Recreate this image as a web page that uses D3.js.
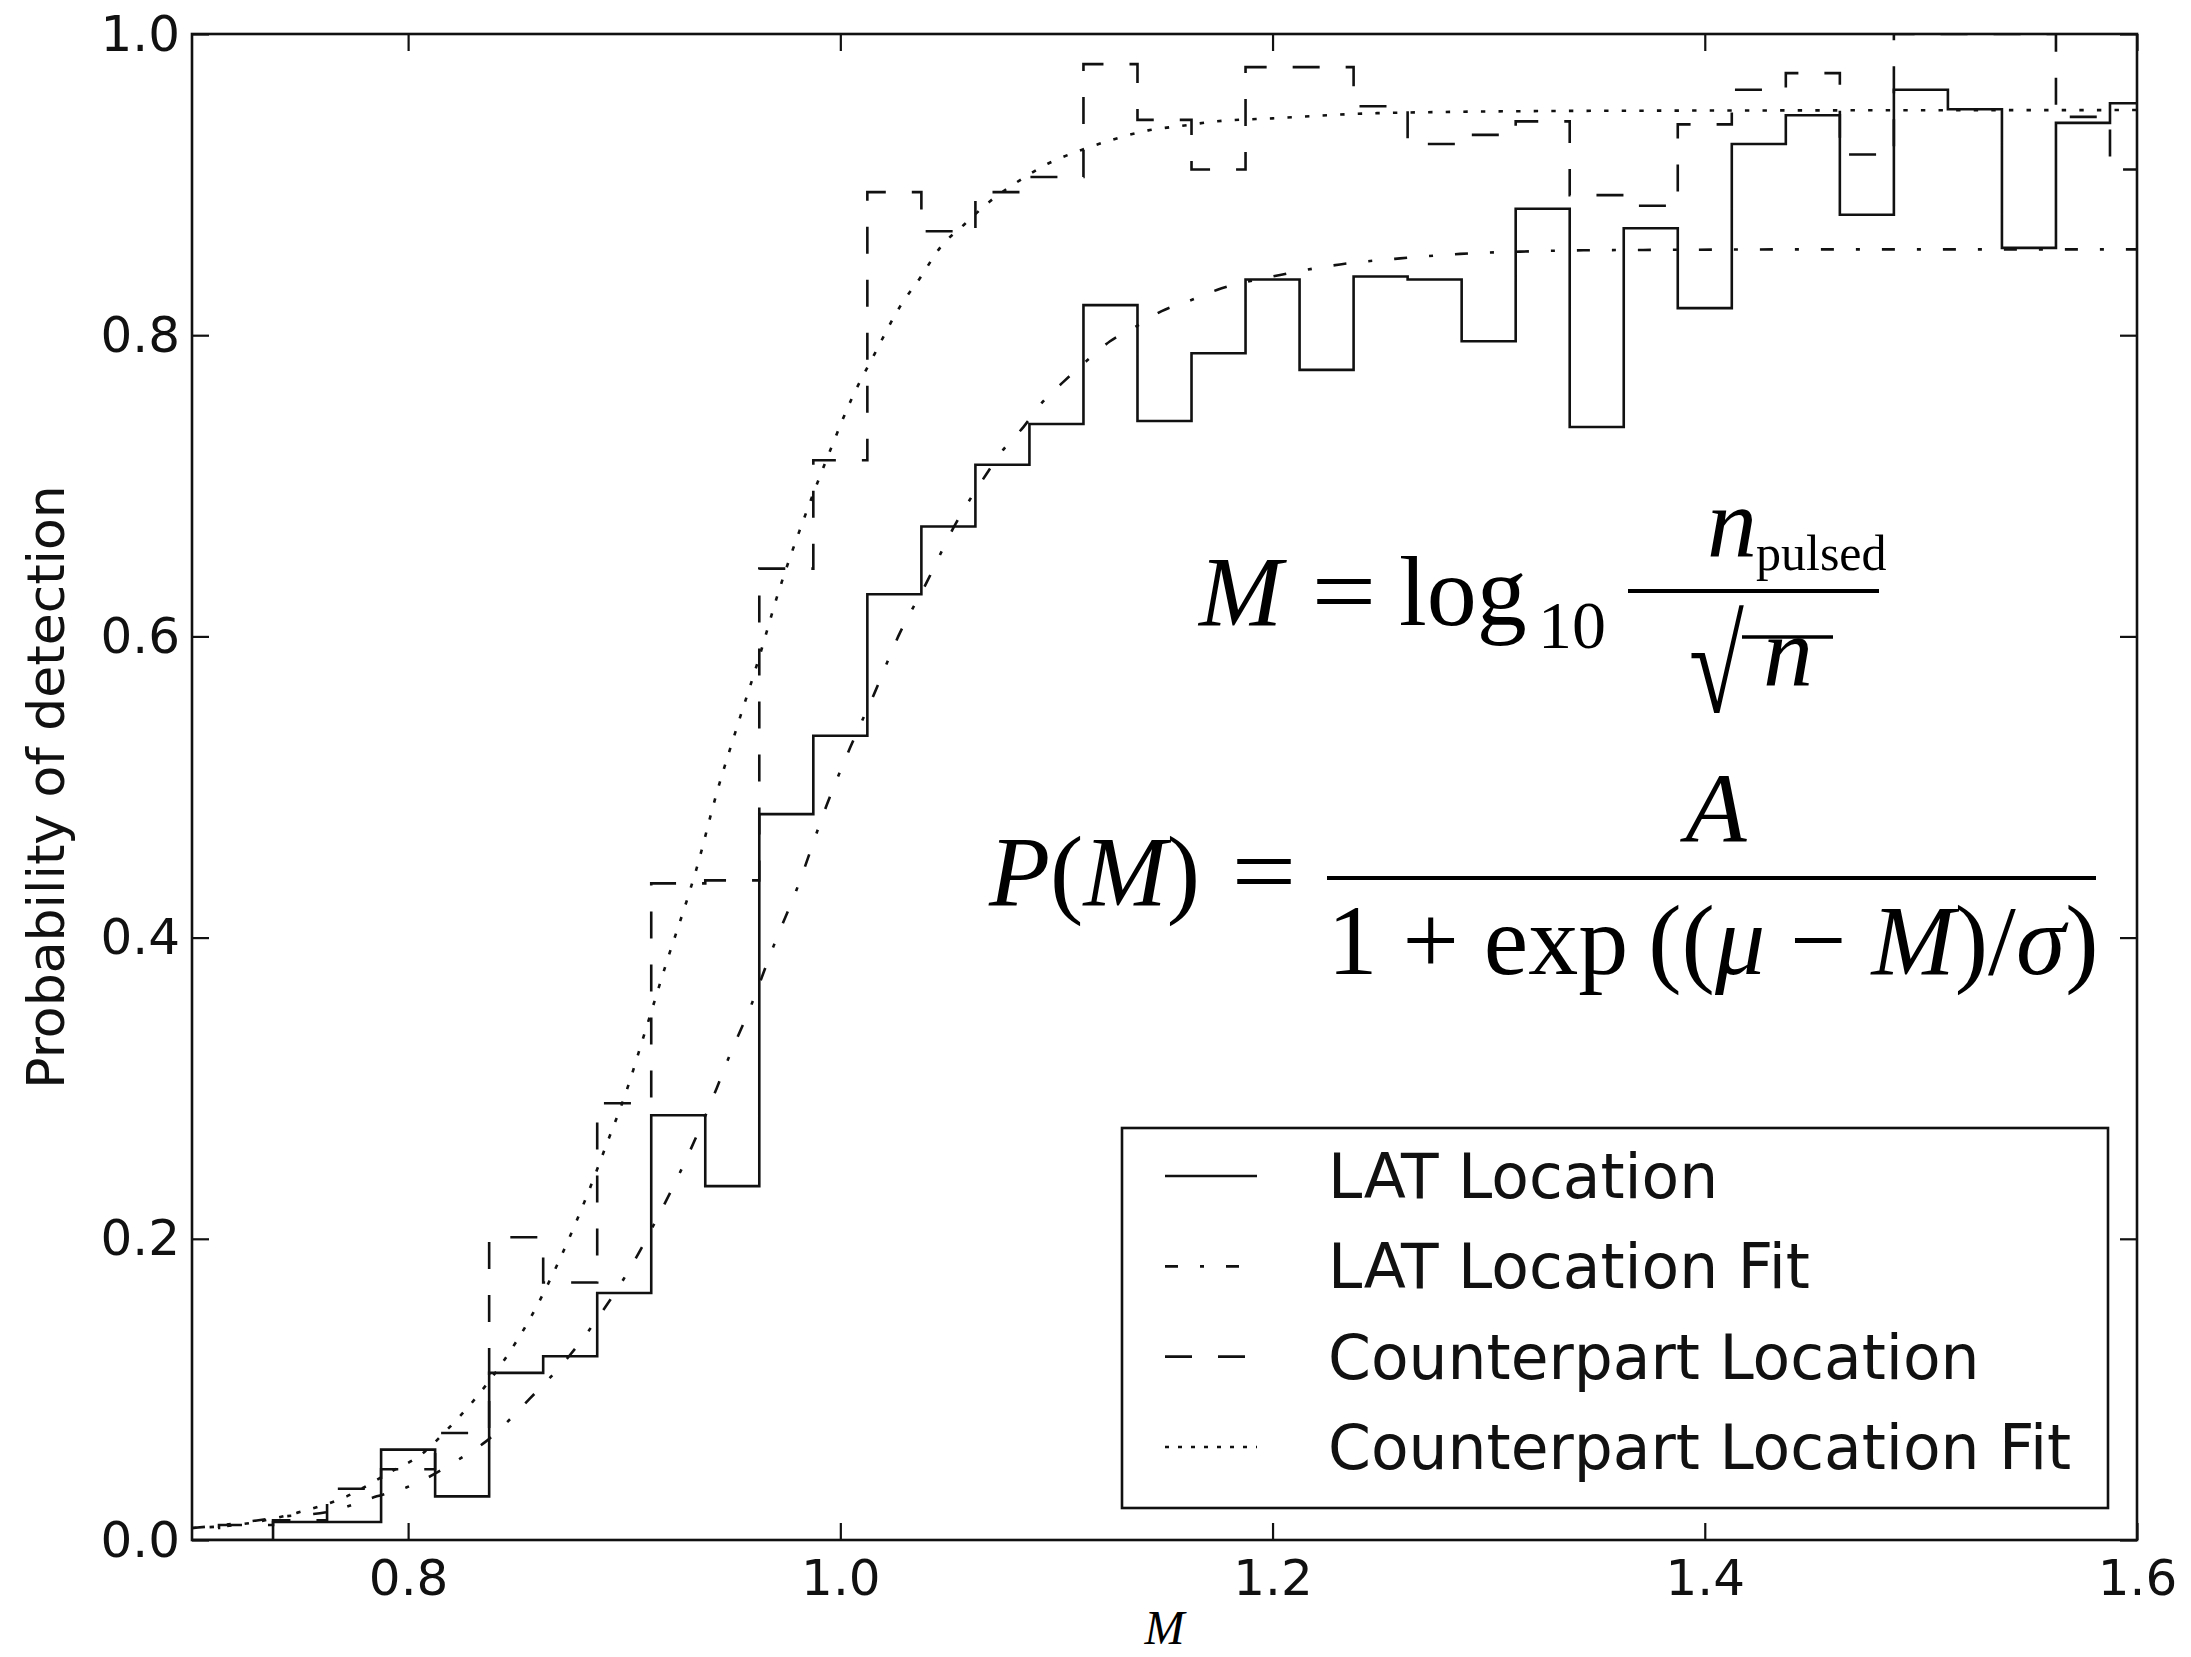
<!DOCTYPE html>
<html>
<head>
<meta charset="utf-8">
<script src="https://cdn.jsdelivr.net/npm/d3@7"></script>
<style>
  body { margin: 0; background: #fff; }
  svg { display: block; }
  .tick text { font-family: "DejaVu Sans", sans-serif; fill: #111; }
  .math { font-family: "Liberation Serif", "Times New Roman", serif; fill: #000; }
  .legend text { font-family: "DejaVu Sans", sans-serif; fill: #111; }
</style>
</head>
<body>
<svg id="chart" width="2191" height="1657"></svg>
<script>
// histogram bin edges (bin width 0.025), last entry is the right edge of the last bin
const binEdges = [0.6875, 0.7125, 0.7375, 0.7625, 0.7875, 0.8125, 0.8375, 0.8625, 0.8875, 0.9125,
    0.9375, 0.9625, 0.9875, 1.0125, 1.0375, 1.0625, 1.0875, 1.1125, 1.1375, 1.1625,
    1.1875, 1.2125, 1.2375, 1.2625, 1.2875, 1.3125, 1.3375, 1.3625, 1.3875, 1.4125,
    1.4375, 1.4625, 1.4875, 1.5125, 1.5375, 1.5625, 1.5875, 1.6125];

// detection fraction per bin
const latLocation = [0, 0, 0.012, 0.012, 0.060, 0.029, 0.111, 0.122, 0.164, 0.282,
    0.235, 0.482, 0.534, 0.628, 0.673, 0.714, 0.741, 0.820, 0.743, 0.788,
    0.837, 0.777, 0.839, 0.837, 0.796, 0.884, 0.739, 0.871, 0.818, 0.927,
    0.946, 0.880, 0.963, 0.950, 0.858, 0.941, 0.954];

const counterpartLocation = [0.008, 0.010, 0.013, 0.034, 0.047, 0.071, 0.201, 0.171, 0.290, 0.436,
    0.438, 0.645, 0.717, 0.895, 0.869, 0.895, 0.905, 0.980, 0.943, 0.910,
    0.978, 0.978, 0.952, 0.927, 0.933, 0.942, 0.893, 0.886, 0.940, 0.963,
    0.974, 0.920, 1.0, 1.0, 1.0, 0.945, 0.910];

// fitted curves, points [M, P]
const latFit = [[0.700, 0.008], [0.708, 0.009], [0.730, 0.013], [0.742, 0.0155], [0.764, 0.019],
    [0.7855, 0.029], [0.7994, 0.035], [0.824, 0.054], [0.8356, 0.065], [0.8564, 0.094],
    [0.875, 0.123], [0.8919, 0.156], [0.8996, 0.173], [0.9065, 0.190], [0.9132, 0.208],
    [0.9258, 0.244], [0.9428, 0.300], [0.948, 0.319], [0.959, 0.356], [0.969, 0.394],
    [0.9798, 0.432], [0.9937, 0.488], [1.0045, 0.526], [1.016, 0.563], [1.0268, 0.600],
    [1.040, 0.636], [1.0523, 0.672], [1.0677, 0.708], [1.0754, 0.724], [1.0847, 0.739],
    [1.0932, 0.755], [1.1032, 0.769], [1.114, 0.783], [1.1248, 0.796], [1.1371, 0.806],
    [1.1487, 0.816], [1.1618, 0.823], [1.1742, 0.830], [1.2035, 0.840], [1.2312, 0.847],
    [1.259, 0.851], [1.2868, 0.854], [1.3145, 0.8555], [1.3438, 0.8564], [1.3716, 0.8566],
    [1.45, 0.857], [1.6, 0.857]];

const counterpartFit = [[0.700, 0.008], [0.7237, 0.0106], [0.7484, 0.018], [0.7716, 0.029], [0.7916, 0.045],
    [0.8063, 0.057], [0.8179, 0.073], [0.8294, 0.091], [0.8433, 0.117], [0.8564, 0.147],
    [0.871, 0.189], [0.8834, 0.231], [0.8919, 0.263], [0.9004, 0.2955], [0.9104, 0.341],
    [0.9197, 0.384], [0.9297, 0.428], [0.9335, 0.446], [0.9428, 0.496], [0.952, 0.539],
    [0.962, 0.584], [0.9713, 0.629], [0.9844, 0.683], [0.996, 0.726], [1.0053, 0.758],
    [1.016, 0.788], [1.0276, 0.819], [1.0369, 0.838], [1.0461, 0.858], [1.0577, 0.874],
    [1.0693, 0.889], [1.0832, 0.903], [1.0962, 0.914], [1.1116, 0.923], [1.1263, 0.930],
    [1.1425, 0.936], [1.158, 0.939], [1.1742, 0.942], [1.20, 0.944], [1.25, 0.9475],
    [1.35, 0.949], [1.6, 0.9495]];

const xTicks = [0.8, 1.0, 1.2, 1.4, 1.6];
const yTicks = [0.0, 0.2, 0.4, 0.6, 0.8, 1.0];
const legendNames = ['LAT Location', 'LAT Location Fit', 'Counterpart Location', 'Counterpart Location Fit'];

// line styles
const styles = {
    solid: 'none',
    dashdot: '13,22,4,22',
    dashed: '27,26',
    dotted: '4.4,13.2'
};

const margin = { top: 34, right: 54, bottom: 117, left: 192 };
const W = 2191, H = 1657;
const width = W - margin.left - margin.right;
const height = H - margin.top - margin.bottom;

const svg = d3.select('#chart');

const x = d3.scaleLinear().domain([0.7, 1.6]).range([margin.left, margin.left + width]);
const y = d3.scaleLinear().domain([0, 1]).range([margin.top + height, margin.top]);

svg.append('clipPath').attr('id', 'plot-clip')
    .append('rect')
    .attr('x', margin.left).attr('y', margin.top)
    .attr('width', width).attr('height', height);

const plot = svg.append('g').attr('clip-path', 'url(#plot-clip)');

// step histograms
const stepLine = d3.line()
    .x(d => x(d[0]))
    .y(d => y(d[1]))
    .curve(d3.curveStepAfter);

function histPoints(values) {
    return binEdges.map((e, i) => [e, i < values.length ? values[i] : values[values.length - 1]]);
}

const fitLine = d3.line()
    .x(d => x(d[0]))
    .y(d => y(d[1]))
    .curve(d3.curveMonotoneX);

const series = [
    { d: stepLine(histPoints(latLocation)), dash: styles.solid },
    { d: fitLine(latFit), dash: styles.dashdot },
    { d: stepLine(histPoints(counterpartLocation)), dash: styles.dashed },
    { d: fitLine(counterpartFit), dash: styles.dotted }
];

plot.selectAll('path.series')
    .data(series)
    .join('path')
    .attr('class', 'series')
    .attr('d', d => d.d)
    .attr('fill', 'none')
    .attr('stroke', '#111')
    .attr('stroke-width', 2.6)
    .attr('stroke-dasharray', d => d.dash);

// axes, ticks inside on all four sides
const tickLen = 17;
const fmt = d3.format('.1f');

const xAxis = svg.append('g')
    .attr('transform', `translate(0,${margin.top + height})`)
    .call(d3.axisBottom(x).tickValues(xTicks).tickFormat(fmt).tickSize(-tickLen).tickPadding(19));
const xAxisTop = svg.append('g')
    .attr('transform', `translate(0,${margin.top})`)
    .call(d3.axisTop(x).tickValues(xTicks).tickFormat('').tickSize(-tickLen));
const yAxis = svg.append('g')
    .attr('transform', `translate(${margin.left},0)`)
    .call(d3.axisLeft(y).tickValues(yTicks).tickFormat(fmt).tickSize(-tickLen).tickPadding(12));
const yAxisRight = svg.append('g')
    .attr('transform', `translate(${margin.left + width},0)`)
    .call(d3.axisRight(y).tickValues(yTicks).tickFormat('').tickSize(-tickLen));

[xAxis, xAxisTop, yAxis, yAxisRight].forEach(g => {
    g.select('.domain').remove();
    g.selectAll('.tick line').attr('stroke', '#111').attr('stroke-width', 2.2);
    g.selectAll('.tick text').style('font-size', '50px');
});

svg.append('rect')
    .attr('x', margin.left).attr('y', margin.top)
    .attr('width', width).attr('height', height)
    .attr('fill', 'none')
    .attr('stroke', '#111')
    .attr('stroke-width', 2.6);

// axis labels
svg.append('text')
    .attr('class', 'math')
    .attr('x', margin.left + width / 2)
    .attr('y', 1644)
    .attr('text-anchor', 'middle')
    .style('font-size', '48px')
    .style('font-style', 'italic')
    .text('M');

svg.append('text')
    .attr('transform', `translate(64,${margin.top + height / 2}) rotate(-90)`)
    .attr('text-anchor', 'middle')
    .style('font-family', '"DejaVu Sans", sans-serif')
    .style('font-size', '52px')
    .style('fill', '#111')
    .text('Probability of detection');

// equations
const eq = svg.append('g').attr('class', 'math');

function mtext(xp, yp, size, str, opts = {}) {
    return eq.append('text')
        .attr('x', xp).attr('y', yp)
        .attr('text-anchor', opts.anchor || 'start')
        .style('font-size', size + 'px')
        .style('font-style', opts.italic ? 'italic' : 'normal')
        .text(str);
}

// slightly widened equals sign, TeX-like
function equals(xp, yp) {
    eq.append('text')
        .attr('transform', `translate(${xp},${yp}) scale(1.15,1)`)
        .attr('text-anchor', 'middle')
        .style('font-size', '100px')
        .text('=');
}

mtext(1199, 625, 100, 'M', { italic: true });
equals(1344, 625);
mtext(1399, 625, 100, 'log');
mtext(1538, 648, 68, '10');
eq.append('line').attr('x1', 1628).attr('x2', 1879).attr('y1', 591).attr('y2', 591)
    .attr('stroke', '#000').attr('stroke-width', 4);
mtext(1707, 556, 100, 'n', { italic: true });
mtext(1756, 570, 50, 'pulsed');
eq.append('text')
    .attr('transform', 'translate(1689,636) scale(1,1.35)')
    .attr('y', 56)
    .style('font-size', '100px')
    .text('\u221A');
eq.append('line').attr('x1', 1742).attr('x2', 1833).attr('y1', 637).attr('y2', 637)
    .attr('stroke', '#000').attr('stroke-width', 3.5);
mtext(1763, 685, 100, 'n', { italic: true });

const pm = mtext(989, 905, 100, '');
pm.append('tspan').style('font-style', 'italic').text('P');
pm.append('tspan').text('(');
pm.append('tspan').style('font-style', 'italic').text('M');
pm.append('tspan').text(')');
equals(1264, 905);
eq.append('line').attr('x1', 1327).attr('x2', 2096).attr('y1', 878).attr('y2', 878)
    .attr('stroke', '#000').attr('stroke-width', 4);
mtext(1716, 842, 100, 'A', { italic: true, anchor: 'middle' });
const den = mtext(1713, 974, 100, '', { anchor: 'middle' });
den.append('tspan').text('1 + exp\u2009((');
den.append('tspan').style('font-style', 'italic').text('\u03BC');
den.append('tspan').text(' \u2212 ');
den.append('tspan').style('font-style', 'italic').text('M');
den.append('tspan').text(')/');
den.append('tspan').style('font-style', 'italic').text('\u03C3');
den.append('tspan').text(')');

// legend
const legend = svg.append('g').attr('class', 'legend');
legend.append('rect')
    .attr('x', 1122).attr('y', 1128)
    .attr('width', 986).attr('height', 380)
    .attr('fill', '#fff')
    .attr('stroke', '#111')
    .attr('stroke-width', 2.6);

const legendDash = [styles.solid, styles.dashdot, styles.dashed, '4,9'];
const rowY = d3.scalePoint().domain(legendNames).range([1176, 1447]);

const rows = legend.selectAll('g.row')
    .data(legendNames)
    .join('g')
    .attr('class', 'row')
    .attr('transform', d => `translate(0,${rowY(d)})`);

rows.append('line')
    .attr('x1', 1165).attr('x2', 1257)
    .attr('stroke', '#111')
    .attr('stroke-width', 2.6)
    .attr('stroke-dasharray', (d, i) => legendDash[i]);

rows.append('text')
    .attr('x', 1328)
    .attr('y', 22)
    .style('font-size', '61.5px')
    .text(d => d);
</script>
</body>
</html>
